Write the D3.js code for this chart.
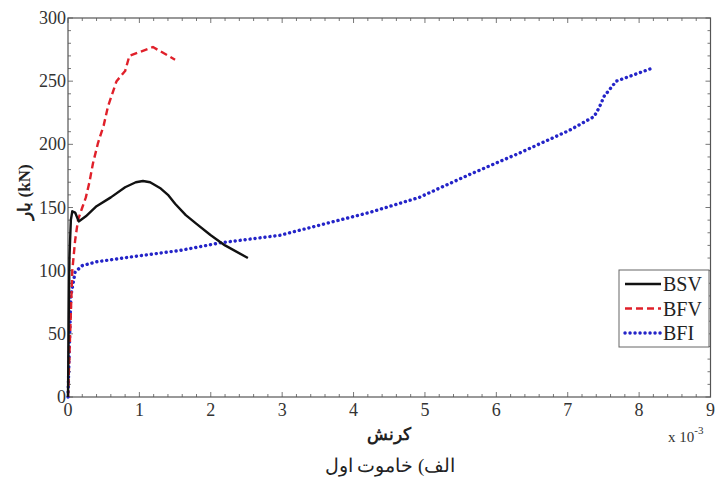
<!DOCTYPE html>
<html><head><meta charset="utf-8">
<script src="https://cdn.jsdelivr.net/npm/d3@7"></script>
<style>body{margin:0;background:#fff}svg{display:block}</style>
</head><body>
<script>
const xTicks = [0,1,2,3,4,5,6,7,8,9];
const yTicks = [0,50,100,150,200,250,300];
const seriesNames = ["BSV","BFV","BFI"];
const bsv = [[0,0],[0.01,60],[0.02,110],[0.04,140],[0.06,147],[0.1,146],[0.15,139],[0.25,143],[0.4,151],[0.6,158],[0.8,166],[0.95,170],[1.05,171],[1.15,170],[1.3,165],[1.4,160],[1.5,153],[1.65,144],[1.8,137],[2.0,128],[2.2,120],[2.52,110]];
const bfv = [[0,0],[0.03,50],[0.06,100],[0.1,124],[0.14,140],[0.2,150],[0.25,158],[0.3,170],[0.35,185],[0.42,201],[0.5,215],[0.56,230],[0.62,240],[0.68,250],[0.8,258],[0.86,270],[1.0,273],[1.19,277],[1.5,267]];
const bfi = [[0,0],[0.02,40],[0.04,80],[0.1,99],[0.2,104],[0.4,107],[0.9,111],[1.57,116],[2.13,122],[2.97,128],[3.66,138],[4.22,146],[4.92,158],[5.62,176],[6.32,193],[7.02,211],[7.37,222],[7.44,229],[7.51,238],[7.68,250],[8.17,260]];

const W=716,H=483, L=68, R=710.5, T=18, B=397;
const svg=d3.select("body").append("svg").attr("width",W).attr("height",H);
const x=d3.scaleLinear().domain([0,9]).range([L,R]);
const y=d3.scaleLinear().domain([0,300]).range([B,T]);
const font="'Liberation Serif','Times New Roman',serif";

// ticks
const g=svg.append("g").attr("stroke","#777").attr("stroke-width",1);
const xMinor=d3.range(0,9.001,0.2), yMinor=d3.range(0,300.1,10);
xMinor.forEach(v=>{
  const major=Math.abs(v-Math.round(v))<1e-6, len=major?5:3;
  g.append("line").attr("x1",x(v)).attr("x2",x(v)).attr("y1",B).attr("y2",B-len);
  g.append("line").attr("x1",x(v)).attr("x2",x(v)).attr("y1",T).attr("y2",T+len);
});
yMinor.forEach(v=>{
  const major=v%50===0, len=major?5:3;
  g.append("line").attr("x1",L).attr("x2",L+len).attr("y1",y(v)).attr("y2",y(v));
  g.append("line").attr("x1",R).attr("x2",R-len).attr("y1",y(v)).attr("y2",y(v));
});
svg.append("rect").attr("x",L).attr("y",T).attr("width",R-L).attr("height",B-T)
  .attr("fill","none").attr("stroke","#555").attr("stroke-width",1.2);

// tick labels
svg.append("g").selectAll("text").data(xTicks).join("text")
  .attr("x",d=>x(d)).attr("y",B+19).attr("text-anchor","middle")
  .attr("font-family",font).attr("font-size",18).attr("fill","#333").text(d=>d);
svg.append("g").selectAll("text").data(yTicks).join("text")
  .attr("x",L-2).attr("y",d=>y(d)+6).attr("text-anchor","end")
  .attr("font-family",font).attr("font-size",18).attr("fill","#333").text(d=>d);

// lines
const line=d3.line().x(d=>x(d[0])).y(d=>y(d[1]));
const styles=[
  {data:bsv,color:"#111",dash:null,w:2.4,cap:"butt"},
  {data:bfv,color:"#e0202a",dash:"7,4",w:2.4,cap:"butt"},
  {data:bfi,color:"#2424c8",dash:"0.1,4.9",w:3.4,cap:"round"}
];
[2,1,0].forEach(i=>{
  const s=styles[i];
  svg.append("path").attr("d",line(s.data)).attr("fill","none").attr("stroke",s.color)
    .attr("stroke-width",s.w).attr("stroke-dasharray",s.dash).attr("stroke-linecap",s.cap)
    .attr("stroke-linejoin","round");
});

// legend
const lg=svg.append("g");
lg.append("rect").attr("x",619).attr("y",270).attr("width",90).attr("height",77)
  .attr("fill","#fff").attr("stroke","#666").attr("stroke-width",1);
seriesNames.forEach((n,i)=>{
  const s=styles[i], yy=284+i*24.5;
  lg.append("line").attr("x1",625).attr("x2",661).attr("y1",yy).attr("y2",yy)
    .attr("stroke",s.color).attr("stroke-width",s.w).attr("stroke-dasharray",s.dash).attr("stroke-linecap",s.cap);
  lg.append("text").attr("x",663).attr("y",yy+7).attr("font-family",font).attr("font-size",20)
    .attr("fill","#222").text(n);
});

// axis labels
svg.append("text").attr("x",389).attr("y",440).attr("text-anchor","middle").attr("font-family",font)
  .attr("font-weight","bold").attr("font-size",17).attr("fill","#222").attr("direction","rtl").text("کرنش");
const ex=svg.append("text").attr("x",668).attr("y",442).attr("font-family",font).attr("font-size",15).attr("fill","#333");
ex.append("tspan").text("x 10");
ex.append("tspan").attr("dy",-8).attr("font-size",11).text("-3");
svg.append("text").attr("transform","translate(30,192) rotate(-90)").attr("text-anchor","middle")
  .attr("font-family",font).attr("font-weight","bold").attr("font-size",17).attr("fill","#222").text("بار (kN)");
svg.append("text").attr("x",390).attr("y",472).attr("text-anchor","middle").attr("font-family",font)
  .attr("font-size",19).attr("fill","#222").attr("direction","rtl").text("الف) خاموت اول");
</script>
</body></html>
